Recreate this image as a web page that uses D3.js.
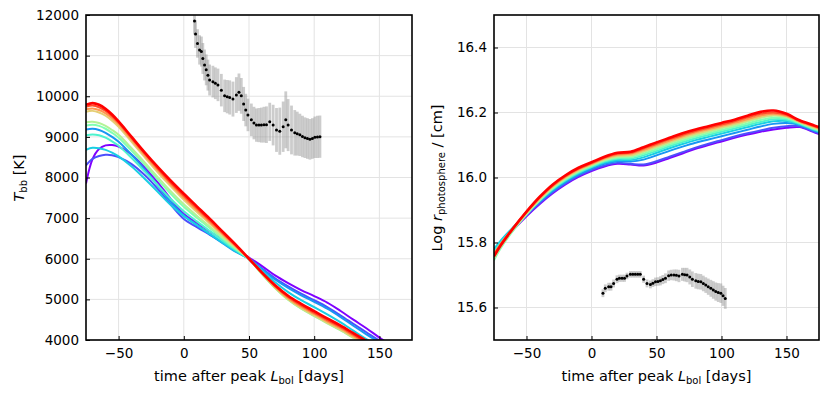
<!DOCTYPE html>
<html>
<head>
<meta charset="utf-8">
<script src="https://cdn.jsdelivr.net/npm/d3@7"></script>
<style>
  body { margin: 0; background: #fff; }
  text { font-family: "DejaVu Sans", sans-serif; fill: #000; }
  .grid line { stroke: #e3e3e3; stroke-width: 1; }
</style>
</head>
<body>
<div id="chart"></div>
<script>
// colour positions of the model curves (rainbow colormap)
const modelKeys = [0.0, 0.1, 0.2, 0.3, 0.4, 0.5, 0.6, 0.7, 0.8, 0.9, 1.0];

// ---- left panel: blackbody temperature [K]
const tbbTimes = [-75, -70, -65, -60, -55, -50, -40, -30, -20, -10, 0, 10, 20, 30, 40,
                  50, 60, 70, 80, 90, 100, 110, 120, 130, 140, 150, 160];
const tbbModels = [
  [7850, 8450, 8700, 8790, 8800, 8760, 8560, 8250, 7880, 7470, 7100, 6880, 6670, 6460, 6240, 6030, 5820, 5590, 5400, 5230, 5080, 4920, 4720, 4500, 4290, 4060, 3850],
  [8300, 8460, 8530, 8560, 8550, 8500, 8330, 8060, 7720, 7330, 6980, 6780, 6590, 6400, 6200, 6000, 5760, 5520, 5320, 5140, 4980, 4810, 4610, 4400, 4190, 3980, 3780],
  [9180, 9200, 9170, 9100, 9000, 8880, 8560, 8200, 7800, 7400, 7070, 6830, 6600, 6380, 6170, 6000, 5740, 5490, 5280, 5100, 4940, 4770, 4570, 4350, 4140, 3940, 3740],
  [8680, 8730, 8720, 8680, 8610, 8520, 8270, 7970, 7650, 7320, 7050, 6830, 6610, 6390, 6180, 5990, 5700, 5420, 5180, 4980, 4810, 4630, 4440, 4230, 4020, 3820, 3620],
  [9040, 9060, 9040, 8980, 8890, 8780, 8480, 8150, 7810, 7470, 7170, 6920, 6680, 6440, 6210, 5990, 5640, 5320, 5050, 4830, 4640, 4460, 4290, 4100, 3910, 3720, 3520],
  [9280, 9300, 9270, 9200, 9100, 8980, 8660, 8310, 7950, 7600, 7280, 7010, 6750, 6490, 6240, 5990, 5620, 5280, 5000, 4780, 4600, 4420, 4250, 4060, 3870, 3680, 3480],
  [9360, 9370, 9340, 9270, 9170, 9050, 8720, 8370, 8010, 7660, 7340, 7060, 6790, 6520, 6260, 5990, 5620, 5280, 4990, 4770, 4590, 4410, 4240, 4050, 3860, 3670, 3470],
  [9620, 9640, 9600, 9520, 9400, 9250, 8880, 8500, 8130, 7780, 7450, 7150, 6860, 6570, 6280, 5995, 5630, 5290, 5010, 4790, 4610, 4430, 4260, 4070, 3880, 3690, 3490],
  [9680, 9700, 9660, 9580, 9460, 9310, 8930, 8550, 8180, 7830, 7500, 7200, 6900, 6600, 6300, 6000, 5640, 5310, 5030, 4820, 4640, 4460, 4290, 4100, 3910, 3720, 3520],
  [9740, 9770, 9730, 9640, 9510, 9350, 8970, 8590, 8220, 7870, 7550, 7240, 6940, 6630, 6320, 6000, 5650, 5330, 5060, 4850, 4670, 4490, 4320, 4130, 3940, 3750, 3550],
  [9790, 9830, 9790, 9690, 9550, 9380, 9000, 8620, 8260, 7920, 7600, 7290, 6980, 6660, 6340, 6000, 5660, 5350, 5090, 4890, 4710, 4530, 4360, 4170, 3980, 3790, 3590]
];

// observed temperature
const tbbObsT = [8.2, 9.0, 10.5, 12.1, 13.5, 14.6, 15.9, 17.2, 18.5, 19.8, 22.3, 24.2, 26.2, 28.8, 31.3, 33.3, 35.2, 37.7, 40.3, 42.3,
                 44.1, 45.9, 47.5, 49.2, 51.8, 53.8, 55.7, 57.6, 59.5, 61.5, 63.4, 65.9, 68.5, 71.1, 73.6, 76.2, 78.2, 80.0, 82.6, 85.1,
                 87.0, 89.0, 91.0, 92.9, 94.8, 96.7, 98.6, 100.5, 102.5, 104.4];
const tbbObs  = [11850, 11530, 11300, 11140, 11100, 10930, 10770, 10650, 10520, 10400, 10360, 10320, 10280, 10150, 10010, 9990, 9970, 9930, 10030, 10100,
                 10010, 9810, 9660, 9540, 9420, 9340, 9290, 9290, 9290, 9300, 9300, 9370, 9290, 9170, 9140, 9250, 9420, 9290, 9170, 9100,
                 9080, 9050, 9010, 8980, 8960, 8940, 8960, 8990, 9000, 9005];
const tbbObsErr = [330, 340, 350, 360, 370, 380, 380, 380, 380, 380, 390, 390, 400, 400, 400, 410, 420, 430, 440, 460,
                   440, 420, 400, 400, 400, 400, 410, 420, 430, 440, 450, 470, 500, 540, 580, 620, 700, 640, 600, 560,
                   540, 520, 510, 500, 500, 500, 500, 510, 520, 520];

// ---- right panel: log photospheric radius [cm]
const radTimes = [-75, -70, -60, -50, -40, -30, -20, -10, 0, 10, 20, 30, 40, 50, 60, 70, 80, 90, 100,
                  110, 120, 130, 140, 150, 160, 170, 175];
const radModels = [
  [15.765, 15.795, 15.840, 15.881, 15.918, 15.951, 15.979, 16.002, 16.020, 16.034, 16.042, 16.040, 16.037, 16.046, 16.060, 16.074, 16.088, 16.100, 16.111, 16.122, 16.132, 16.141, 16.148, 16.153, 16.155, 16.141, 16.134],
  [15.770, 15.798, 15.843, 15.884, 15.921, 15.954, 15.982, 16.005, 16.023, 16.037, 16.045, 16.042, 16.040, 16.050, 16.064, 16.078, 16.092, 16.104, 16.115, 16.126, 16.136, 16.145, 16.153, 16.158, 16.158, 16.143, 16.136],
  [15.775, 15.802, 15.846, 15.887, 15.925, 15.958, 15.986, 16.009, 16.027, 16.042, 16.050, 16.049, 16.055, 16.068, 16.082, 16.095, 16.107, 16.117, 16.127, 16.137, 16.147, 16.157, 16.165, 16.168, 16.162, 16.146, 16.139],
  [15.780, 15.805, 15.848, 15.889, 15.928, 15.962, 15.990, 16.013, 16.031, 16.046, 16.054, 16.054, 16.062, 16.076, 16.090, 16.103, 16.115, 16.125, 16.135, 16.145, 16.155, 16.165, 16.173, 16.174, 16.164, 16.148, 16.141],
  [15.770, 15.798, 15.845, 15.889, 15.929, 15.964, 15.992, 16.015, 16.033, 16.049, 16.058, 16.058, 16.068, 16.082, 16.096, 16.109, 16.121, 16.131, 16.141, 16.151, 16.161, 16.171, 16.179, 16.178, 16.166, 16.150, 16.143],
  [15.745, 15.782, 15.838, 15.886, 15.929, 15.966, 15.995, 16.018, 16.036, 16.052, 16.061, 16.062, 16.073, 16.087, 16.101, 16.114, 16.126, 16.136, 16.146, 16.156, 16.166, 16.177, 16.184, 16.182, 16.168, 16.152, 16.145],
  [15.750, 15.785, 15.840, 15.888, 15.931, 15.968, 15.997, 16.020, 16.038, 16.054, 16.064, 16.066, 16.078, 16.092, 16.106, 16.119, 16.131, 16.141, 16.151, 16.161, 16.172, 16.183, 16.190, 16.186, 16.170, 16.154, 16.147],
  [15.760, 15.792, 15.844, 15.891, 15.934, 15.971, 16.000, 16.023, 16.040, 16.057, 16.067, 16.069, 16.081, 16.096, 16.110, 16.123, 16.135, 16.145, 16.155, 16.165, 16.176, 16.187, 16.193, 16.188, 16.171, 16.156, 16.149],
  [15.765, 15.795, 15.846, 15.893, 15.936, 15.973, 16.002, 16.025, 16.042, 16.059, 16.070, 16.073, 16.085, 16.100, 16.114, 16.127, 16.139, 16.149, 16.159, 16.169, 16.180, 16.191, 16.196, 16.190, 16.172, 16.158, 16.151],
  [15.762, 15.793, 15.846, 15.894, 15.938, 15.975, 16.004, 16.027, 16.044, 16.061, 16.073, 16.076, 16.089, 16.104, 16.118, 16.131, 16.143, 16.153, 16.163, 16.173, 16.185, 16.196, 16.200, 16.193, 16.174, 16.160, 16.153],
  [15.757, 15.790, 15.845, 15.895, 15.940, 15.978, 16.007, 16.030, 16.047, 16.064, 16.076, 16.079, 16.093, 16.108, 16.122, 16.136, 16.148, 16.158, 16.168, 16.178, 16.190, 16.202, 16.206, 16.196, 16.176, 16.162, 16.155]
];

const radObsT = [8.8, 10.6, 13.2, 15.0, 17.0, 19.6, 21.5, 23.5, 25.4, 27.3, 29.9, 31.8, 33.7, 35.6, 37.5, 40.1, 42.7, 45.3, 47.2, 49.2,
                 51.1, 53.0, 54.9, 56.9, 59.3, 61.3, 63.4, 65.3, 67.3, 69.9, 71.7, 73.5, 75.6, 77.6, 80.2, 82.1, 84.1, 86.0, 87.9, 89.8,
                 91.8, 93.7, 95.6, 97.5, 99.5, 101.2, 102.9];
const radObs  = [15.644, 15.659, 15.664, 15.664, 15.674, 15.687, 15.690, 15.690, 15.690, 15.697, 15.702, 15.702, 15.702, 15.702, 15.702, 15.687, 15.674, 15.671, 15.675, 15.679,
                 15.680, 15.682, 15.686, 15.690, 15.698, 15.700, 15.700, 15.699, 15.697, 15.702, 15.701, 15.700, 15.694, 15.687, 15.682, 15.680, 15.679, 15.674, 15.669, 15.664,
                 15.659, 15.654, 15.649, 15.646, 15.644, 15.636, 15.628];
const radObsErr = [0.012, 0.012, 0.012, 0.012, 0.012, 0.012, 0.011, 0.011, 0.011, 0.010, 0.010, 0.010, 0.010, 0.010, 0.010, 0.011, 0.012, 0.012, 0.012, 0.013,
                   0.013, 0.014, 0.014, 0.015, 0.016, 0.016, 0.017, 0.018, 0.019, 0.020, 0.021, 0.022, 0.023, 0.024, 0.024, 0.024, 0.024, 0.024, 0.024, 0.025,
                   0.026, 0.027, 0.028, 0.029, 0.030, 0.031, 0.032];

const xTicks = [-50, 0, 50, 100, 150];
const tbbTicks = [4000, 5000, 6000, 7000, 8000, 9000, 10000, 11000, 12000];
const radTicks = [15.6, 15.8, 16.0, 16.2, 16.4];

// matplotlib "rainbow" colormap
function rainbow (c) {
  let r = Math.min(1, Math.abs(2 * c - 0.5));
  let g = Math.sin(Math.PI * c);
  let b = Math.cos(Math.PI * c / 2);
  return d3.rgb(r * 255, g * 255, b * 255).formatHex();
}

const svg = d3.select("#chart").append("svg")
  .attr("width", 830)
  .attr("height", 395)
  .style("background", "#fff");

function drawPanel (p) {
  let x = d3.scaleLinear().domain([-75, 175]).range([p.left, p.right]);
  let y = d3.scaleLinear().domain(p.yDomain).range([340, 15]);
  let g = svg.append("g");

  // grid
  let grid = g.append("g").attr("class", "grid");
  grid.selectAll(".gx").data(xTicks).enter().append("line")
    .attr("x1", d => x(d)).attr("x2", d => x(d))
    .attr("y1", 15).attr("y2", 340);
  grid.selectAll(".gy").data(p.yTicks).enter().append("line")
    .attr("x1", p.left).attr("x2", p.right)
    .attr("y1", d => y(d)).attr("y2", d => y(d));

  let clipId = "clip" + p.id;
  svg.append("clipPath").attr("id", clipId).append("rect")
    .attr("x", p.left).attr("y", 15)
    .attr("width", p.right - p.left).attr("height", 325);

  let plot = g.append("g").attr("clip-path", `url(#${clipId})`);

  // model curves
  let line = d3.line()
    .x((d, i) => x(p.times[i]))
    .y(d => y(d))
    .curve(d3.curveCatmullRom.alpha(0.5));
  plot.selectAll("path.model")
    .data(p.models)
    .enter()
    .append("path")
    .attr("class", "model")
    .attr("d", d => line(d))
    .attr("fill", "none")
    .attr("stroke", (d, i) => rainbow(modelKeys[i]))
    .attr("stroke-width", (d, i) => i == p.models.length - 1 ? 2.6 : 2);

  // observed points with error bars
  plot.selectAll("line.err")
    .data(p.obs)
    .enter()
    .append("line")
    .attr("class", "err")
    .attr("x1", (d, i) => x(p.obsT[i])).attr("x2", (d, i) => x(p.obsT[i]))
    .attr("y1", (d, i) => y(d - p.obsErr[i]))
    .attr("y2", (d, i) => y(d + p.obsErr[i]))
    .attr("stroke", "#9a9a9a")
    .attr("stroke-opacity", 0.5)
    .attr("stroke-width", 2.8);
  plot.selectAll("circle.obs")
    .data(p.obs)
    .enter()
    .append("circle")
    .attr("class", "obs")
    .attr("cx", (d, i) => x(p.obsT[i]))
    .attr("cy", d => y(d))
    .attr("r", 1.5)
    .attr("fill", "#000");

  // axes, ticks pointing inward
  g.append("g")
    .attr("transform", "translate(0,340)")
    .call(d3.axisBottom(x).tickValues(xTicks).tickSizeInner(-4).tickSizeOuter(0).tickPadding(8)
      .tickFormat(d => d < 0 ? "\u2212" + Math.abs(d) : d))
    .call(a => a.select(".domain").remove())
    .call(a => a.selectAll("text").attr("font-size", 13.5).attr("font-family", "DejaVu Sans"));
  g.append("g")
    .attr("transform", `translate(${p.left},0)`)
    .call(d3.axisLeft(y).tickValues(p.yTicks).tickSizeInner(-4).tickSizeOuter(0).tickPadding(7)
      .tickFormat(p.fmt))
    .call(a => a.select(".domain").remove())
    .call(a => a.selectAll("text").attr("font-size", 13.5).attr("font-family", "DejaVu Sans"));

  g.append("rect")
    .attr("x", p.left).attr("y", 15)
    .attr("width", p.right - p.left).attr("height", 325)
    .attr("fill", "none")
    .attr("stroke", "#000")
    .attr("stroke-width", 1.6);

  // x label
  let xl = g.append("text")
    .attr("x", (p.left + p.right) / 2)
    .attr("y", 381)
    .attr("text-anchor", "middle")
    .attr("font-size", 14.5);
  xl.append("tspan").text("time after peak ");
  xl.append("tspan").attr("font-style", "italic").text("L");
  xl.append("tspan").attr("font-size", 10).attr("dy", 3).text("bol");
  xl.append("tspan").attr("dy", -3).text(" [days]");

  // y label
  let yl = g.append("text")
    .attr("transform", `translate(${p.ylabelX},178) rotate(-90)`)
    .attr("text-anchor", "middle")
    .attr("font-size", 14.5);
  p.ylabel(yl);
}

drawPanel({
  id: "L", left: 86, right: 412, yDomain: [4000, 12000], yTicks: tbbTicks,
  times: tbbTimes, models: tbbModels,
  obsT: tbbObsT, obs: tbbObs, obsErr: tbbObsErr,
  fmt: d3.format("d"), ylabelX: 24,
  ylabel: t => {
    t.append("tspan").attr("font-style", "italic").text("T");
    t.append("tspan").attr("font-size", 10).attr("dy", 3).text("bb");
    t.append("tspan").attr("dy", -3).text(" [K]");
  }
});

drawPanel({
  id: "R", left: 494, right: 819, yDomain: [15.5, 16.5], yTicks: radTicks,
  times: radTimes, models: radModels,
  obsT: radObsT, obs: radObs, obsErr: radObsErr,
  fmt: d3.format(".1f"), ylabelX: 442,
  ylabel: t => {
    t.append("tspan").text("Log ");
    t.append("tspan").attr("font-style", "italic").text("r");
    t.append("tspan").attr("font-size", 10).attr("dy", 3).text("photosphere");
    t.append("tspan").attr("dy", -3).text(" / [cm]");
  }
});
</script>
</body>
</html>
